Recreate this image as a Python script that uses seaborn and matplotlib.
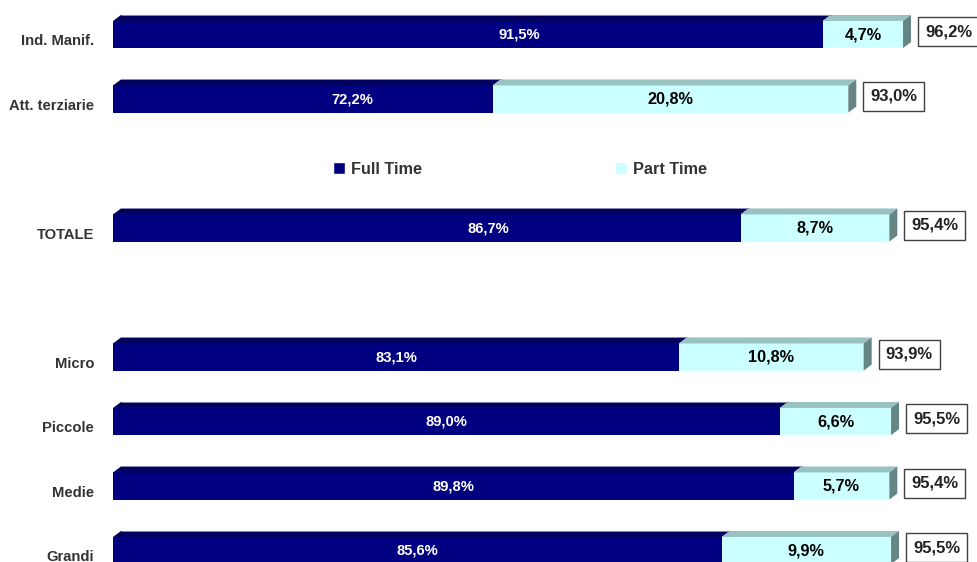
import pandas as pd
import seaborn as sns
import matplotlib.pyplot as plt
from matplotlib.patches import Polygon, Patch
from matplotlib.transforms import offset_copy, ScaledTranslation

# Data
categories = ["Ind. Manif.", "Att. terziarie", "TOTALE", "Micro", "Piccole", "Medie", "Grandi"]
full_time = [91.5, 72.2, 86.7, 83.1, 89.0, 89.8, 85.6]
part_time = [4.7, 20.8, 8.7, 10.8, 6.6, 5.7, 9.9]
totals = [96.2, 93.0, 95.4, 93.9, 95.5, 95.4, 95.5]

# row order, with blank rows for the legend and the gap
order = ["Ind. Manif.", "Att. terziarie", " ", "TOTALE", "  ", "Micro", "Piccole", "Medie", "Grandi"]

# horizontal nudge of the full-time labels (data units), as in the original
ft_label_shift = [3.0, 2.9, 3.6, 0, 0, 0, 0]

FT_COLOR = "#000080"
FT_TOP = "#00005e"
PT_COLOR = "#ccffff"
PT_TOP = "#99c2c2"
PT_SIDE = "#668585"
TEXT = "#333333"

df = pd.DataFrame({"cat": categories, "ft": full_time, "pt": part_time, "tot": totals})

sns.set_style("white")
plt.rcParams["font.family"] = ["Liberation Sans", "DejaVu Sans"]

fig = plt.figure(figsize=(9.78, 5.62), dpi=100)
ax = fig.add_axes([113 / 978, 0, 865 / 978, 1])

# stacked bars: total in part-time colour, full time drawn on top
sns.barplot(data=df, y="cat", x="tot", order=order, color=PT_COLOR, saturation=1,
            width=0.42, errorbar=None, orient="h", linewidth=0, ax=ax)
sns.barplot(data=df, y="cat", x="ft", order=order, color=FT_COLOR, saturation=1,
            width=0.42, errorbar=None, orient="h", linewidth=0, ax=ax)

ax.set_xlim(50, 50 + 865 / 17.1)
ax.set_ylim(8.178, -0.535)
sns.despine(ax=ax, left=True, bottom=True)
ax.set_xlabel("")
ax.set_ylabel("")
ax.set_xticks([])
ax.tick_params(axis="y", length=0, pad=13.5)
for lab in ax.get_yticklabels():
    lab.set_fontsize(10.6)
    lab.set_fontweight("bold")
    lab.set_color(TEXT)
    lab.set_transform(lab.get_transform() + ScaledTranslation(0, -5 / 100, fig.dpi_scale_trans))

# pixel -> data conversion for the 3D depth
p0 = ax.transData.transform((50, 0))
p1 = ax.transData.transform((51, 1))
ux = 1 / abs(p1[0] - p0[0])
uy = 1 / abs(p1[1] - p0[1])
dx, dy = 8 * ux, 6 * uy
x_left = ax.get_xlim()[0]


def top_face(x0, x1, ytop, color):
    pts = [(x0, ytop), (x1, ytop), (x1 + dx, ytop - dy), (x0 + dx, ytop - dy)]
    ax.add_patch(Polygon(pts, closed=True, facecolor=color, edgecolor="none", clip_on=False))


for i, row in df.iterrows():
    y = order.index(row["cat"])
    h = ax.containers[0].patches[0].get_height()
    ytop, ybot = y - h / 2, y + h / 2
    top_face(x_left, row["ft"], ytop, FT_TOP)
    top_face(row["ft"], row["tot"], ytop, PT_TOP)
    ax.plot([x_left + dx, row["ft"] + dx], [ytop - dy, ytop - dy], color="#8c8cb4", lw=0.7,
            solid_capstyle="butt", clip_on=False)
    side = [(row["tot"], ytop), (row["tot"] + dx, ytop - dy), (row["tot"] + dx, ybot - dy), (row["tot"], ybot)]
    ax.add_patch(Polygon(side, closed=True, facecolor=PT_SIDE, edgecolor="none", clip_on=False))

    ax.text((x_left + row["ft"]) / 2 + ft_label_shift[i], y, f"{row['ft']:.1f}%".replace(".", ","),
            ha="center", va="center", color="white", fontsize=10.6, fontweight="bold")
    ax.text((row["ft"] + row["tot"]) / 2, y, f"{row['pt']:.1f}%".replace(".", ","),
            ha="center", va="center", color="black", fontsize=11.7, fontweight="bold")
    ax.text(row["tot"], y, f"{row['tot']:.1f}%".replace(".", ","),
            transform=offset_copy(ax.transData, fig=fig, x=22, y=3, units="dots"),
            ha="left", va="center", color="#222222", fontsize=12, fontweight="bold", clip_on=False,
            bbox=dict(boxstyle="square,pad=0.42", facecolor="white", edgecolor="#404040", lw=1))

handles = [Patch(facecolor=FT_COLOR, label="Full Time"), Patch(facecolor=PT_COLOR, label="Part Time")]
leg = ax.legend(handles=handles, loc="center", bbox_to_anchor=(520 / 978, 1 - 169 / 562),
                bbox_transform=fig.transFigure, ncol=2, frameon=False,
                prop={"size": 11.7, "weight": "bold"}, handlelength=0.7, handleheight=0.75,
                handletextpad=0.37, columnspacing=11.9, labelcolor=TEXT)

fig.savefig("out.png", dpi=100)
